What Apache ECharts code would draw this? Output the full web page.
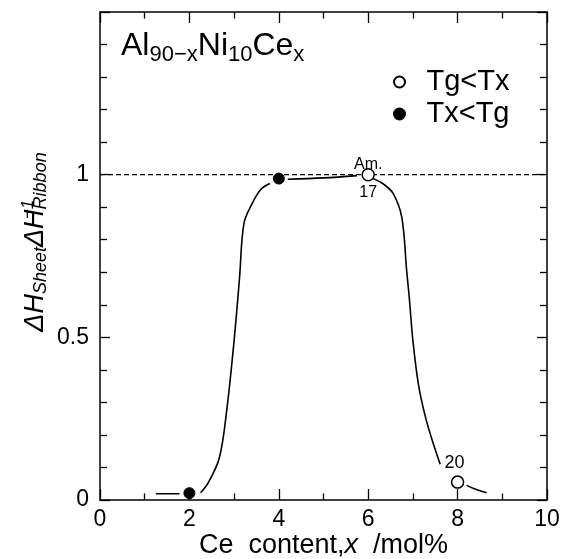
<!DOCTYPE html>
<html><head><meta charset="utf-8">
<script src="https://cdn.jsdelivr.net/npm/echarts@6/dist/echarts.min.js"></script>
<style>html,body{margin:0;padding:0;background:#fff}#c{width:567px;height:559px}</style>
</head><body><div id="c"></div>
<script>
// ---- data ----
const openPoints = [[6, 1.0], [8, 0.055]];          // Tg<Tx
const filledPoints = [[2, 0.021], [4, 0.988]];      // Tx<Tg
const openLabelsAbove = ['Am.', '20'];
const openLabelsBelow = ['17', ''];
const curveLeft = [[1.25, 0.019], [1.78, 0.019]];
const curveRise = [[2.25, 0.022], [2.43, 0.055], [2.67, 0.13], [2.83, 0.27], [3.0, 0.49], [3.12, 0.68], [3.22, 0.85], [3.4, 0.91], [3.6, 0.955], [3.8, 0.973]];
const curvePlateau = [[4.2, 0.986], [5.0, 0.99], [5.75, 0.997]];
const curveFall = [[6.11, 0.988], [6.35, 0.97], [6.56, 0.942], [6.75, 0.87], [6.86, 0.706], [6.92, 0.62], [7.0, 0.49], [7.13, 0.35], [7.29, 0.25], [7.45, 0.176], [7.61, 0.11]];
const curveTail = [[8.2, 0.045], [8.42, 0.032], [8.65, 0.022]];
const refLine = [[0, 1], [10, 1]];
const xTickLabels = [0, 2, 4, 6, 8, 10];
const yTickLabels = [0, 0.5, 1];
const legendNames = ['Tg<Tx', 'Tx<Tg'];

// ---- chart ----
const font = '"Liberation Sans", Arial, sans-serif';
const black = '#000';
const chart = echarts.init(document.getElementById('c'), null, {renderer: 'canvas'});

function xAxisCfg(pos, showLabels) {
  return {
    type: 'value', min: 0, max: 10, interval: 2, position: pos,
    axisLine: {show: true, onZero: false, lineStyle: {color: black, width: 1.5}},
    axisTick: {show: true, inside: true, length: 11, lineStyle: {color: black, width: 1.3}},
    minorTick: {show: true, splitNumber: 2, length: 6.5, lineStyle: {color: black, width: 1.3}},
    splitLine: {show: false}, minorSplitLine: {show: false},
    axisLabel: {show: showLabels, color: black, fontSize: 23, fontFamily: font, margin: 8,
      formatter: v => xTickLabels.includes(v) ? String(v) : ''}
  };
}
function yAxisCfg(pos, showLabels) {
  return {
    type: 'value', min: 0, max: 1.5, interval: 0.5, position: pos,
    axisLine: {show: true, onZero: false, lineStyle: {color: black, width: 1.5}},
    axisTick: {show: true, inside: true, length: 10, lineStyle: {color: black, width: 1.3}},
    minorTick: {show: true, splitNumber: 5, length: 7, lineStyle: {color: black, width: 1.3}},
    splitLine: {show: false}, minorSplitLine: {show: false},
    axisLabel: {show: showLabels, color: black, fontSize: 23, fontFamily: font, margin: 11,
      formatter: v => yTickLabels.includes(v) ? String(v) : ''}
  };
}

const xBottom = xAxisCfg('bottom', true);
xBottom.name = 'Ce  content,{i|x}  /mol%';
xBottom.nameLocation = 'middle';
xBottom.nameGap = 32;
xBottom.nameMoveOverlap = false;
xBottom.nameTextStyle = {color: black, fontSize: 27, fontFamily: font,
  rich: {i: {fontStyle: 'italic', fontSize: 27, fontFamily: font, color: black}}};

const yLeft = yAxisCfg('left', true);
yLeft.name = 'ΔH{sub|Sheet}ΔH{sup|−1}{sub|Ribbon}';
yLeft.nameLocation = 'middle';
yLeft.nameGap = 50;
yLeft.nameMoveOverlap = false;
yLeft.nameTextStyle = {color: black, fontSize: 27, fontStyle: 'italic', fontFamily: font, lineHeight: 30,
  padding: [0, 0, 0, 28],
  rich: {
    sub: {fontSize: 18, fontStyle: 'italic', fontFamily: font, color: black, lineHeight: 12, verticalAlign: 'bottom'},
    sup: {fontSize: 17, fontStyle: 'italic', fontFamily: font, color: black, lineHeight: 12, verticalAlign: 'top', width: 0}
  }};

const lineStyle = {color: black, width: 1.6};
function curve(data) {
  return {type: 'line', data: data, smooth: 0.35, showSymbol: false, symbol: 'none',
    lineStyle: lineStyle, silent: true, z: 3, xAxisIndex: 0, yAxisIndex: 0};
}

const openData = openPoints.map((p, i) => {
  const lab = i === 0
    ? {show: true, position: 'inside', offset: [0, 3.5],
       formatter: '{a|' + openLabelsAbove[i] + '}\n{g|}\n{b|' + openLabelsBelow[i] + '}',
       rich: {a: {fontSize: 16, lineHeight: 16, fontFamily: font, color: black},
              g: {fontSize: 12, lineHeight: 12},
              b: {fontSize: 16, lineHeight: 16, fontFamily: font, color: black}}}
    : {show: true, position: 'top', distance: 3, offset: [-3, 0], formatter: openLabelsAbove[i],
       fontSize: 18, fontFamily: font, color: black};
  return {value: p, label: lab};
});

chart.setOption({
  backgroundColor: '#fff',
  animation: false,
  grid: {left: 100, right: 20, top: 12, bottom: 59, containLabel: false, outerBoundsMode: 'none'},
  title: {
    text: 'Al{s|90−x}Ni{s|10}Ce{s|x}',
    left: 116, top: 21,
    textStyle: {fontSize: 32, fontWeight: 'normal', fontFamily: font, color: black, lineHeight: 40,
      rich: {s: {fontSize: 22, fontFamily: font, color: black, lineHeight: 14, verticalAlign: 'bottom'}}}
  },
  legend: {
    data: legendNames, orient: 'vertical', left: 388, top: 62,
    itemWidth: 44, itemHeight: 11, itemGap: 2, symbolKeepAspect: true,
    textStyle: {fontSize: 29, fontFamily: font, color: black, lineHeight: 30},
    selectedMode: false
  },
  xAxis: [xBottom, xAxisCfg('top', false)],
  yAxis: [yLeft, yAxisCfg('right', false)],
  series: [
    {type: 'line', data: refLine, showSymbol: false, symbol: 'none', silent: true, z: 2,
      lineStyle: {color: black, width: 1.4, type: [5, 3]}},
    curve(curveLeft), curve(curveRise), curve(curvePlateau), curve(curveFall), curve(curveTail),
    {name: legendNames[0], type: 'scatter', data: openData, symbol: 'circle', symbolSize: 12, z: 5,
      itemStyle: {color: '#fff', borderColor: black, borderWidth: 1.5, opacity: 1}},
    {name: legendNames[1], type: 'scatter', data: filledPoints, symbol: 'circle', symbolSize: 11, z: 5,
      itemStyle: {color: black, borderColor: black, borderWidth: 1, opacity: 1}}
  ]
});
</script>
</body></html>
